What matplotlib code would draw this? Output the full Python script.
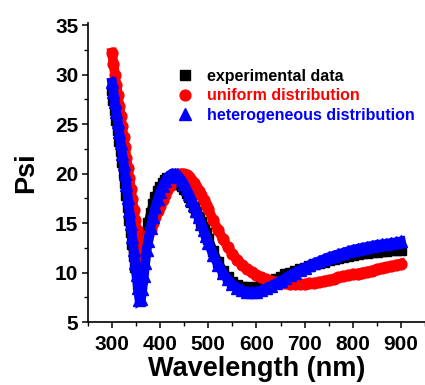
import matplotlib.pyplot as plt
from matplotlib.ticker import MultipleLocator

# wavelength grid (nm): dense in the steep dip, coarser further out
wavelength = list(range(300, 375, 3)) + list(range(375, 500, 5)) + list(range(500, 901, 10))

experimental = [
    28.4, 27.4, 26.4, 25.4, 24.4, 23.3, 22.3, 21.2, 20.1, 19.0,
    17.8, 16.6, 15.3, 14.1, 12.9, 11.7, 10.6, 9.6, 8.8, 8.4,
    9.2, 10.4, 11.8, 13.0, 14.1,
    15.0, 16.0, 16.9, 17.6, 18.2, 18.6, 19.0, 19.3, 19.5, 19.5,
    19.3, 19.0, 18.9, 18.9, 18.7, 18.4, 18.0, 17.6, 17.1, 16.6,
    16.1, 15.6, 15.1, 14.6, 14.0,
    13.4, 12.2, 11.1, 10.2, 9.5, 9.0, 8.7, 8.55, 8.5, 8.45,
    8.5, 8.6, 8.75, 9.0, 9.3, 9.55, 9.8, 10.0, 10.15, 10.35,
    10.5, 10.65, 10.85, 11.0, 11.1, 11.25, 11.4, 11.5, 11.6, 11.7,
    11.8, 11.85, 11.95, 12.0, 12.05, 12.1, 12.15, 12.2, 12.25, 12.25,
    12.3,
]

uniform = [
    32.2, 31.1, 30.0, 28.95, 27.9, 26.85, 25.8, 24.75, 23.7, 22.65,
    21.6, 20.55, 19.5, 18.45, 17.4, 16.35, 15.3, 14.25, 13.2, 12.0,
    11.6, 12.0, 12.5, 13.0, 13.4,
    13.8, 14.4, 15.0, 15.6, 16.2, 16.7, 17.3, 17.8, 18.3, 18.75,
    19.1, 19.45, 19.7, 19.9, 20.0, 19.95, 19.8, 19.6, 19.3, 19.0,
    18.6, 18.2, 17.8, 17.3, 16.85,
    16.4, 15.3, 14.3, 13.4, 12.6, 11.9, 11.3, 10.8, 10.4, 10.05,
    9.75, 9.5, 9.3, 9.15, 9.05, 8.95, 8.9, 8.85, 8.82, 8.82,
    8.85, 8.9, 8.95, 9.05, 9.15, 9.25, 9.35, 9.5, 9.6, 9.7,
    9.8, 9.9, 10.0, 10.1, 10.2, 10.35, 10.45, 10.55, 10.65, 10.75,
    10.9,
]

heterogeneous = [
    29.2, 28.2, 27.2, 26.2, 25.2, 24.2, 23.1, 22.0, 21.0, 20.0,
    18.8, 17.5, 16.2, 14.9, 13.6, 12.3, 11.0, 9.7, 8.4, 7.2,
    7.3, 8.3, 9.6, 11.0, 12.3,
    13.2, 14.5, 15.6, 16.6, 17.4, 18.1, 18.7, 19.2, 19.6, 19.85,
    20.0, 20.0, 19.9, 19.6, 19.3, 18.9, 18.4, 17.9, 17.35, 16.8,
    16.2, 15.6, 14.95, 14.3, 13.65,
    13.0, 11.8, 10.8, 10.0, 9.3, 8.8, 8.45, 8.2, 8.05, 8.0,
    8.05, 8.2, 8.4, 8.65, 8.9, 9.15, 9.45, 9.75, 10.0, 10.25,
    10.5, 10.75, 10.95, 11.15, 11.35, 11.55, 11.7, 11.85, 12.0, 12.15,
    12.3, 12.4, 12.5, 12.6, 12.7, 12.8, 12.85, 12.9, 13.0, 13.05,
    13.15,
]

labels = ['experimental data', 'uniform distribution', 'heterogeneous distribution']
colors = ['black', 'red', 'blue']

plt.rcParams['font.family'] = ['Liberation Sans', 'DejaVu Sans']
plt.rcParams['font.weight'] = 'bold'

fig = plt.figure(figsize=(4.25, 3.85), dpi=100)
ax = fig.add_axes([0.207, 0.1636, 0.793, 0.7766])

ax.plot(wavelength, experimental, '-', color=colors[0], lw=6.5, marker='s', ms=6.5,
        solid_joinstyle='miter', label=labels[0], zorder=2)
ax.plot(wavelength, uniform, '-', color=colors[1], lw=7, marker='o', ms=7.8,
        solid_joinstyle='round', label=labels[1], zorder=3)
ax.plot(wavelength, heterogeneous, '-', color=colors[2], lw=7, marker='^', ms=8.2,
        solid_joinstyle='miter', label=labels[2], zorder=4)

ax.set_xlim(250, 950)
ax.set_ylim(5, 35.2)
ax.set_xticks([300, 400, 500, 600, 700, 800, 900])
ax.xaxis.set_minor_locator(MultipleLocator(50))
ax.yaxis.set_major_locator(MultipleLocator(5))
ax.yaxis.set_minor_locator(MultipleLocator(2.5))

for side in ['top', 'right']:
    ax.spines[side].set_visible(False)
for side in ['left', 'bottom']:
    ax.spines[side].set_linewidth(1.2)

ax.tick_params(which='major', direction='out', length=4.5, width=1.1, labelsize=15, pad=2.5)
ax.tick_params(axis='x', which='major', pad=4.5)
ax.tick_params(which='minor', direction='out', length=2.8, width=1.0)
for lbl in ax.get_xticklabels() + ax.get_yticklabels():
    lbl.set_fontweight('bold')

ax.set_xlabel('Wavelength (nm)', fontsize=19.5, fontweight='bold', labelpad=1.5)
ax.set_ylabel('Psi', fontsize=19.5, fontweight='bold', labelpad=11)

leg = ax.legend(loc='upper left', bbox_to_anchor=(178 / 425, 1 - 69 / 385),
                bbox_transform=fig.transFigure, frameon=False,
                prop={'weight': 'bold', 'size': 11.5}, labelcolor=colors,
                handlelength=0.9, handletextpad=0.9, labelspacing=0.28,
                borderpad=0, borderaxespad=0)
for h in leg.legend_handles:
    h.set_linestyle('none')

fig.savefig('out.png', dpi=100)
